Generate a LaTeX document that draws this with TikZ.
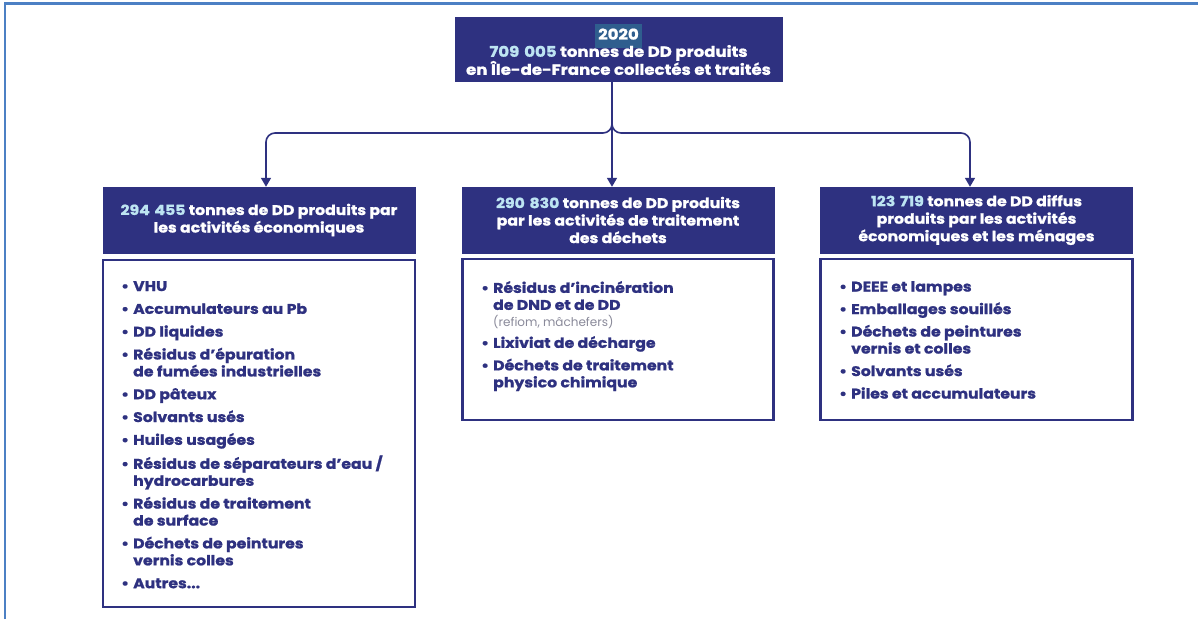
\documentclass[tikz,border=0pt]{standalone}
\usepackage{fontspec}
\setmainfont{Poppins}[BoldFeatures={FakeBold=1.2, FakeStretch=1.12}]
\usetikzlibrary{arrows.meta}
\definecolor{navy}{HTML}{2E3180}
\definecolor{frame}{HTML}{4C80C4}
\definecolor{numc}{HTML}{BDE4F2}
\definecolor{hl}{HTML}{2F5E8E}
\definecolor{greytxt}{HTML}{8A8A9A}
\newcommand\nb[1]{\textcolor{numc}{#1}}
\newcommand\bul{\makebox[12pt][l]{\textbullet}}
\newcommand\ind{\hspace*{12pt}}
\tikzset{
  hdr/.style={fill=navy, draw=navy, text=white, font=\bfseries\fontsize{14}{17.5}\selectfont, align=center, inner sep=0pt},
  listbox/.style={draw=navy, line width=2.5pt, fill=white, inner sep=0pt},
  listtxt/.style={text=navy, font=\bfseries\fontsize{14}{17}\selectfont, align=left, anchor=north west, inner sep=0pt},
  conn/.style={draw=navy, line width=1.6pt, rounded corners=9pt, -{Triangle[width=10pt,length=9pt]}},
}
\begin{document}
\begin{tikzpicture}[x=1pt,y=-1pt]
\useasboundingbox (0,0) rectangle (1198,619);
\fill[white] (0,0) rectangle (1198,619);
\draw[frame, line width=2.5pt] (5,619) -- (5,3.5) -- (1198,3.5);

% top box
\node[hdr, minimum width=327, minimum height=64, font=\bfseries\fontsize{14.8}{18}\selectfont] (top) at (618.5,49.5)
  {\colorbox{hl}{\strut 2020}\\[-4pt] \nb{709\,\,005} tonnes de DD produits\\ en Île-de-France collectés et traités};

% header boxes
\node[hdr, minimum width=312, minimum height=66] (h1) at (259,220)
  {\nb{294\,\,455} tonnes de DD produits par\\ les activités économiques};
\node[hdr, minimum width=312, minimum height=66] (h2) at (618,220)
  {\nb{290\,\,830} tonnes de DD produits\\ par les activités de traitement\\ des déchets};
\node[hdr, minimum width=312, minimum height=66] (h3) at (976.5,220)
  {\nb{123\,\,719} tonnes de DD diffus\\ produits par les activités\\ économiques et les ménages};

% list boxes
\node[listbox, minimum width=312, minimum height=347] (b1) at (259,433.5) {};
\node[listbox, minimum width=311, minimum height=161] (b2) at (618,339.5) {};
\node[listbox, minimum width=312, minimum height=161] (b3) at (976.5,339.5) {};

\node[listtxt] (l1) at (121,281) {%
\bul VHU\\[5.8pt]
\bul Accumulateurs au Pb\\[5.8pt]
\bul DD liquides\\[5.8pt]
\bul Résidus d’épuration\\
\ind de fumées industrielles\\[5.8pt]
\bul DD pâteux\\[5.8pt]
\bul Solvants usés\\[5.8pt]
\bul Huiles usagées\\[5.8pt]
\bul Résidus de séparateurs d’eau /\\
\ind hydrocarbures\\[5.8pt]
\bul Résidus de traitement\\
\ind de surface\\[5.8pt]
\bul Déchets de peintures\\
\ind vernis colles\\[5.8pt]
\bul Autres...};

\node[listtxt] (l2) at (481,281) {%
\bul Résidus d’incinération\\
\ind de DND et de DD\\
\ind{\mdseries\color{greytxt}\fontsize{12}{15}\selectfont(refiom, mâchefers)}\\[4pt]
\bul Lixiviat de décharge\\[5.5pt]
\bul Déchets de traitement\\
\ind physico chimique};

\node[listtxt] (l3) at (839,281) {%
\bul DEEE et lampes\\[5.5pt]
\bul Emballages souillés\\[5.5pt]
\bul Déchets de peintures\\
\ind vernis et colles\\[5.5pt]
\bul Solvants usés\\[5.5pt]
\bul Piles et accumulateurs};

% connectors
\draw[conn] ([xshift=-6.5]top.south) -- (612,133) -- (266,133) -- ([xshift=7]h1.north);
\draw[conn] ([xshift=-6.5]top.south) -- ([xshift=-6]h2.north);
\draw[conn] ([xshift=-6.5]top.south) -- (612,133) -- (970,133) -- ([xshift=-6.5]h3.north);
\end{tikzpicture}
\end{document}
